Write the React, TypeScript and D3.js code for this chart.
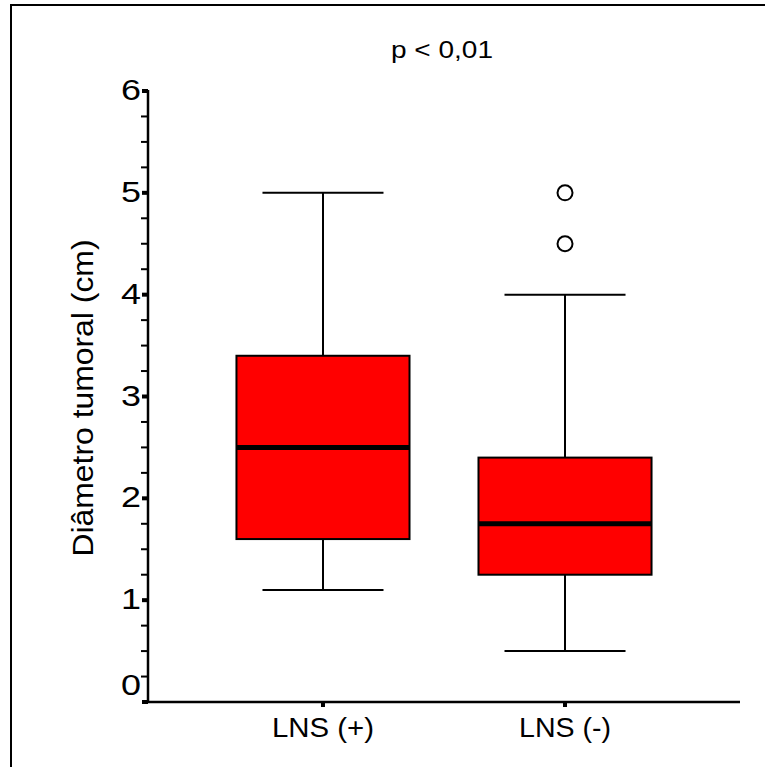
import React from "react";
import * as d3 from "d3";

const categories = ["LNS (+)", "LNS (-)"];
const whiskerLow = [1.1, 0.5];
const q1 = [1.6, 1.25];
const median = [2.5, 1.75];
const q3 = [3.4, 2.4];
const whiskerHigh = [5.0, 4.0];
const outliers = [[], [4.5, 5.0]];
const yTicks = [0, 1, 2, 3, 4, 5, 6];
const title = "p < 0,01";
const yLabel = "Diâmetro tumoral (cm)";

const W = 765;
const H = 767;
const X0 = 148;
const X1 = 740;
const Y0 = 702;
const Y1 = 91;
const FONT = "Arial, 'Liberation Sans', sans-serif";

export default function App() {
  const y = d3.scaleLinear().domain([0, 6]).range([Y0, Y1]);
  const x = d3.scalePoint<string>().domain(categories).range([X0, X1]).padding(0.723);
  const step = x.step();
  const boxW = step * 0.715;
  const capW = step * 0.5;
  const minor = d3.range(0, 6.0001, 0.25).filter((v) => Math.abs(v - Math.round(v)) > 1e-6);
  const xLabelLen = [102, 92];

  return (
    <svg
      width={W}
      height={H}
      style={{ position: "absolute", left: 0, top: 0, background: "#fff" }}
    >
      <rect x={0} y={0} width={W} height={H} fill="#fff" />
      {/* frame */}
      <path d={`M11,${H + 5} L11,5 L${W + 5},5`} fill="none" stroke="#000" strokeWidth={2} />

      <text
        x={442}
        y={58}
        textAnchor="middle"
        fontFamily={FONT}
        fontSize={24}
        textLength={102}
        lengthAdjust="spacingAndGlyphs"
        fill="#000"
      >
        {title}
      </text>

      {/* boxes */}
      {categories.map((c, i) => {
        const cx = x(c)!;
        return (
          <g key={c}>
            <line x1={cx} x2={cx} y1={y(whiskerHigh[i])} y2={y(q3[i])} stroke="#000" strokeWidth={2} />
            <line x1={cx} x2={cx} y1={y(q1[i])} y2={y(whiskerLow[i])} stroke="#000" strokeWidth={2} />
            <line x1={cx - capW / 2} x2={cx + capW / 2} y1={y(whiskerHigh[i])} y2={y(whiskerHigh[i])} stroke="#000" strokeWidth={2} />
            <line x1={cx - capW / 2} x2={cx + capW / 2} y1={y(whiskerLow[i])} y2={y(whiskerLow[i])} stroke="#000" strokeWidth={2} />
            <rect
              x={cx - boxW / 2}
              y={y(q3[i])}
              width={boxW}
              height={y(q1[i]) - y(q3[i])}
              fill="#ff0000"
              stroke="#000"
              strokeWidth={2}
            />
            <line x1={cx - boxW / 2} x2={cx + boxW / 2} y1={y(median[i])} y2={y(median[i])} stroke="#000" strokeWidth={5} />
            {outliers[i].map((v, j) => (
              <circle key={j} cx={cx} cy={y(v)} r={7.5} fill="#fff" stroke="#000" strokeWidth={2} />
            ))}
          </g>
        );
      })}

      {/* y axis */}
      <line x1={X0} x2={X0} y1={Y1 - 1} y2={Y0 + 1} stroke="#000" strokeWidth={2.5} />
      {minor.map((v) => (
        <line key={v} x1={X0 - 7} x2={X0} y1={y(v)} y2={y(v)} stroke="#000" strokeWidth={2} />
      ))}
      {yTicks.map((v) => (
        <g key={v}>
          <rect x={X0 - 6} y={y(v) - 2} width={6} height={4} fill="#000" />
          <text
            x={141}
            y={y(v) - (v === 0 ? 17 : 1)}
            textAnchor="end"
            dominantBaseline="central"
            fontFamily={FONT}
            fontSize={29}
            textLength={20}
            lengthAdjust="spacingAndGlyphs"
            fill="#000"
          >
            {v}
          </text>
        </g>
      ))}

      {/* x axis */}
      <line x1={X0 - 1} x2={X1} y1={Y0} y2={Y0} stroke="#000" strokeWidth={2.5} />
      {categories.map((c, i) => (
        <g key={c}>
          <rect x={x(c)! - 2} y={Y0} width={4} height={5} fill="#000" />
          <text
            x={x(c)!}
            y={737}
            textAnchor="middle"
            fontFamily={FONT}
            fontSize={28}
            textLength={xLabelLen[i]}
            lengthAdjust="spacingAndGlyphs"
            fill="#000"
          >
            {c}
          </text>
        </g>
      ))}

      <text
        transform={`translate(93,${398}) rotate(-90)`}
        textAnchor="middle"
        fontFamily={FONT}
        fontSize={29}
        textLength={317}
        lengthAdjust="spacingAndGlyphs"
        fill="#000"
      >
        {yLabel}
      </text>
    </svg>
  );
}
